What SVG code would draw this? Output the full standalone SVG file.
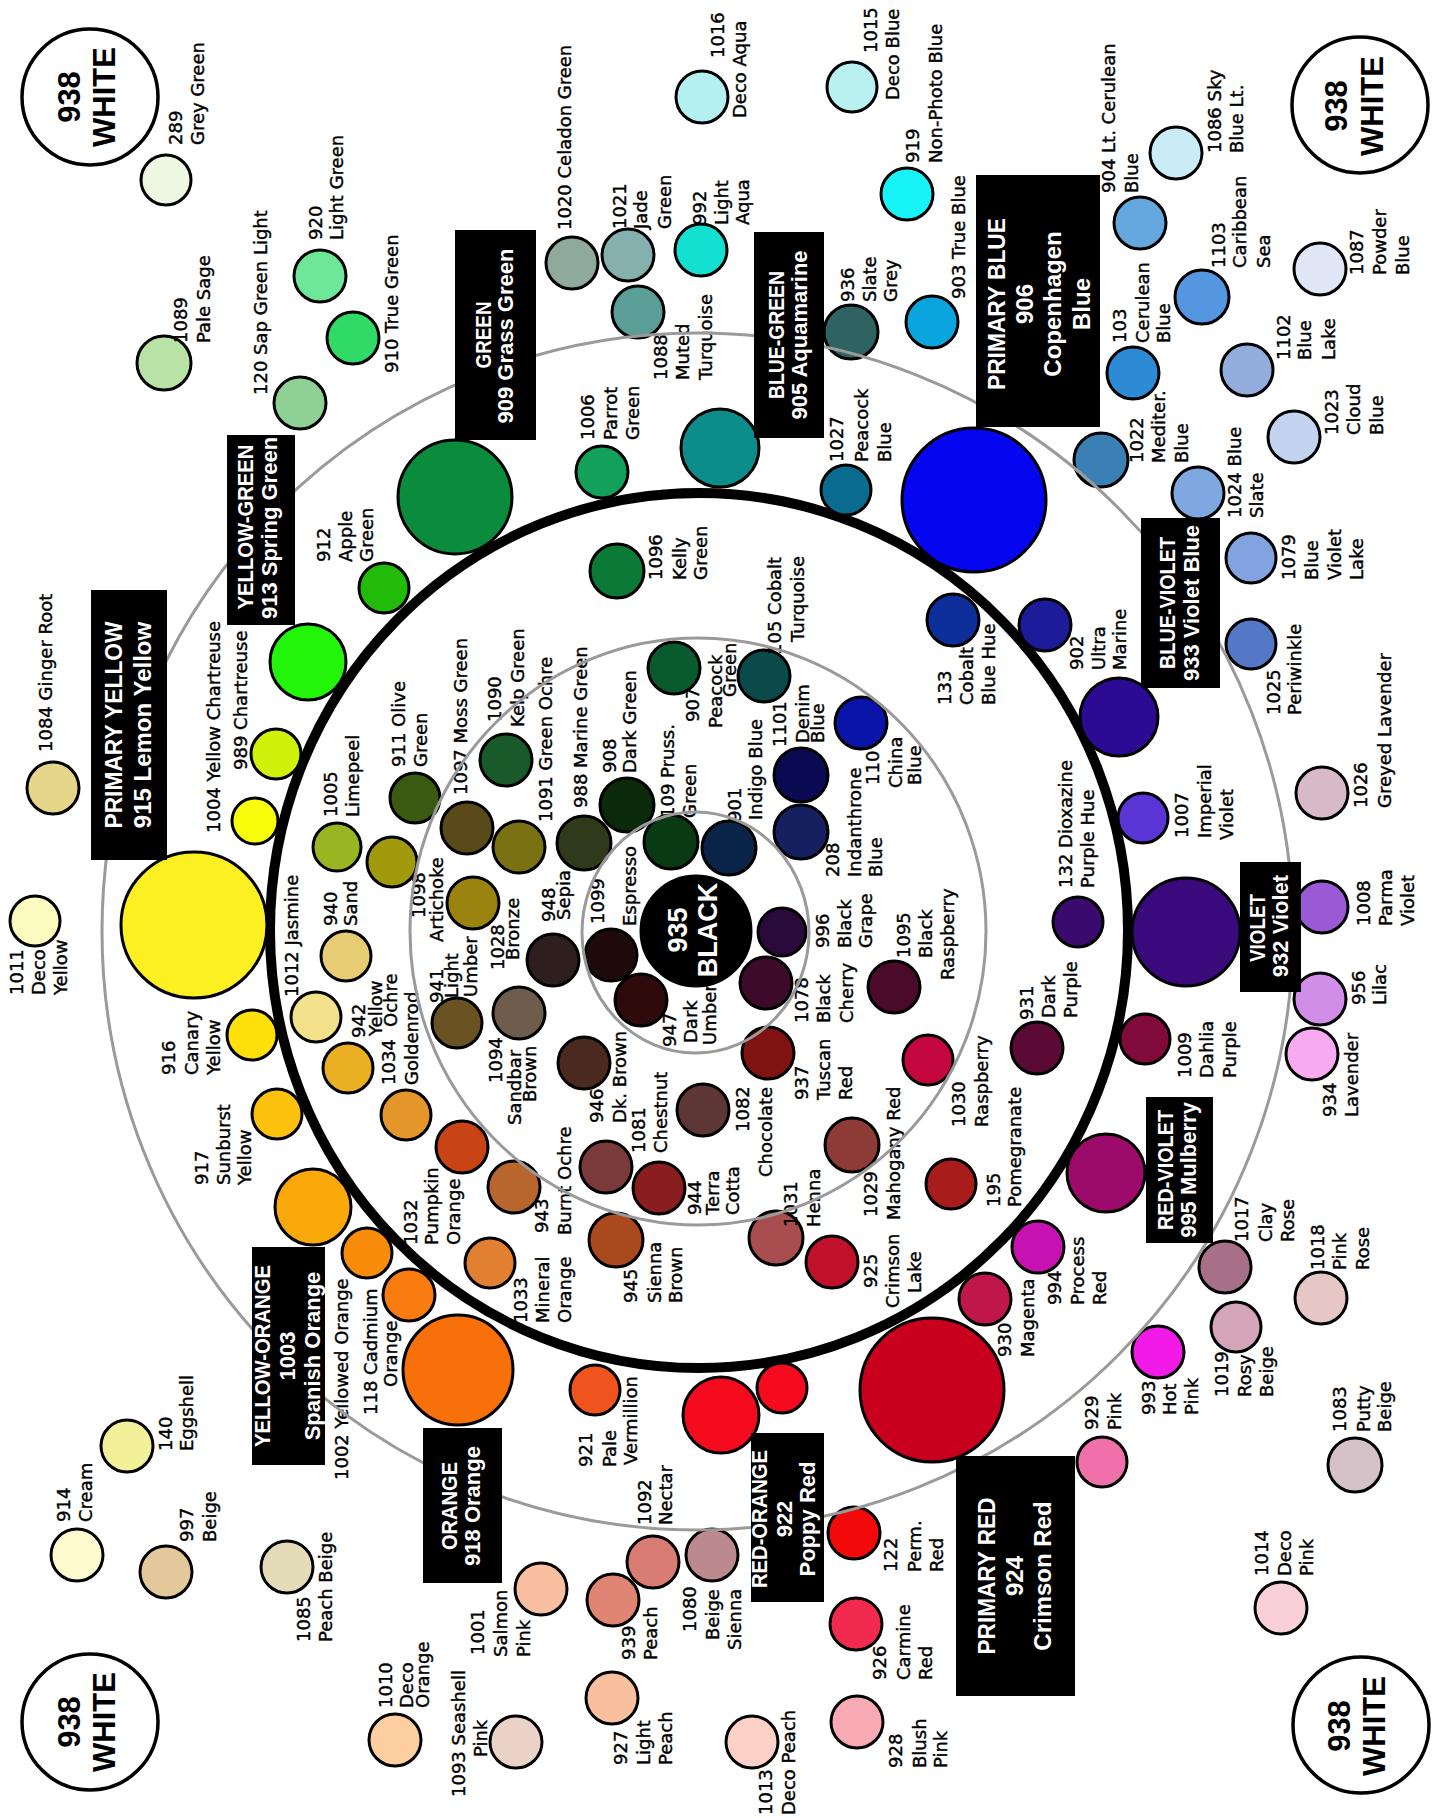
<svg xmlns="http://www.w3.org/2000/svg" width="1437" height="1818" viewBox="0 0 1437 1818">
<style>
.c{stroke:#000;stroke-width:3}
.l{font-family:"DejaVu Sans",Verdana,sans-serif;font-size:18px;fill:#000;stroke:#000;stroke-width:0.4}
.bx{fill:#000}
.bt{font-family:"Liberation Sans",Arial,sans-serif;font-weight:bold;font-size:22px;fill:#fff;text-anchor:middle}
.bp{font-size:24px}
.w{fill:#fff;stroke:#000;stroke-width:3.5}
.wt{font-family:"Liberation Sans",Arial,sans-serif;font-weight:bold;font-size:31px;fill:#000;text-anchor:middle}
.ring{fill:none;stroke:#9a9a9a;stroke-width:3}
.thick{fill:none;stroke:#000;stroke-width:10}
</style>
<rect width="1437" height="1818" fill="#fff"/>
<g id="rings-back">
<ellipse class="thick" cx="699" cy="930.5" rx="429" ry="437.5"/>
</g>
<g id="nodes">
<g id="w938-tl"><circle class="w" cx="90" cy="97" r="68"/><text class="wt" transform="rotate(-90)"><tspan x="-97" y="80">938</tspan><tspan x="-97" y="115">WHITE</tspan></text></g>
<g id="w938-tr"><circle class="w" cx="1360" cy="105" r="68"/><text class="wt" transform="rotate(-90)"><tspan x="-106" y="1347">938</tspan><tspan x="-106" y="1383">WHITE</tspan></text></g>
<g id="w938-bl"><circle class="w" cx="90" cy="1722" r="68"/><text class="wt" transform="rotate(-90)"><tspan x="-1722" y="80">938</tspan><tspan x="-1722" y="115">WHITE</tspan></text></g>
<g id="w938-br"><circle class="w" cx="1361" cy="1725" r="68"/><text class="wt" transform="rotate(-90)"><tspan x="-1726" y="1350">938</tspan><tspan x="-1726" y="1385">WHITE</tspan></text></g>

<g id="n289"><circle class="c" cx="166" cy="180" r="25" fill="#eef7e2"/><text class="l" transform="rotate(-90)"><tspan x="-145" y="182">289</tspan><tspan x="-145" y="204">Grey Green</tspan></text></g>
<g id="n1089"><circle class="c" cx="164" cy="363" r="27" fill="#b9e2a6"/><text class="l" transform="rotate(-90)"><tspan x="-343" y="187">1089</tspan><tspan x="-343" y="210">Pale Sage</tspan></text></g>
<g id="n120"><circle class="c" cx="300" cy="403" r="26" fill="#8fd094"/><text class="l" transform="rotate(-90)"><tspan x="-395" y="267">120 Sap Green Light</tspan></text></g>
<g id="n920"><circle class="c" cx="320" cy="276" r="26" fill="#6ee898"/><text class="l" transform="rotate(-90)"><tspan x="-240" y="322">920</tspan><tspan x="-240" y="343">Light Green</tspan></text></g>
<g id="n910"><circle class="c" cx="353" cy="338" r="26" fill="#2fdb66"/><text class="l" transform="rotate(-90)"><tspan x="-373" y="398">910 True Green</tspan></text></g>
<g id="n909"><circle class="c" cx="455" cy="497" r="57" fill="#0a8c3c"/></g>
<g id="n1020"><circle class="c" cx="572" cy="263" r="26" fill="#8fa99c"/><text class="l" transform="rotate(-90)"><tspan x="-230" y="571">1020 Celadon Green</tspan></text></g>
<g id="n1021"><circle class="c" cx="628" cy="255" r="26" fill="#86b0ad"/><text class="l" transform="rotate(-90)"><tspan x="-229" y="626">1021</tspan><tspan x="-229" y="647">Jade</tspan><tspan x="-229" y="671">Green</tspan></text></g>
<g id="n1088"><circle class="c" cx="638" cy="312" r="26" fill="#5a9e97"/><text class="l" transform="rotate(-90)"><tspan x="-380" y="667">1088</tspan><tspan x="-380" y="689">Muted</tspan><tspan x="-380" y="712">Turquoise</tspan></text></g>
<g id="n992"><circle class="c" cx="701" cy="250" r="26" fill="#12e0d0"/><text class="l" transform="rotate(-90)"><tspan x="-225" y="706">992</tspan><tspan x="-225" y="728">Light</tspan><tspan x="-225" y="749">Aqua</tspan></text></g>
<g id="n1016"><circle class="c" cx="702" cy="97" r="26" fill="#b5f0f0"/><text class="l" transform="rotate(-90)"><tspan x="-58" y="724">1016</tspan><tspan x="-118" y="746">Deco Aqua</tspan></text></g>
<g id="n1015"><circle class="c" cx="852" cy="87" r="25" fill="#b9f1f1"/><text class="l" transform="rotate(-90)"><tspan x="-53" y="877">1015</tspan><tspan x="-100" y="899">Deco Blue</tspan></text></g>
<g id="n919"><circle class="c" cx="907" cy="194" r="26" fill="#16f4f8"/><text class="l" transform="rotate(-90)"><tspan x="-163" y="919">919</tspan><tspan x="-163" y="942">Non-Photo Blue</tspan></text></g>
<g id="n905"><circle class="c" cx="720" cy="448" r="39" fill="#0d8c8c"/></g>
<g id="n936"><circle class="c" cx="851" cy="332" r="27" fill="#2f6362"/><text class="l" transform="rotate(-90)"><tspan x="-302" y="854">936</tspan><tspan x="-302" y="876">Slate</tspan><tspan x="-302" y="897">Grey</tspan></text></g>
<g id="n903"><circle class="c" cx="932" cy="322" r="26" fill="#0aa4df"/><text class="l" transform="rotate(-90)"><tspan x="-299" y="965">903 True Blue</tspan></text></g>
<g id="n1006"><circle class="c" cx="602" cy="472" r="26" fill="#12a05a"/><text class="l" transform="rotate(-90)"><tspan x="-440" y="594">1006</tspan><tspan x="-440" y="617">Parrot</tspan><tspan x="-440" y="639">Green</tspan></text></g>
<g id="n1027"><circle class="c" cx="846" cy="490" r="25" fill="#0a6b91"/><text class="l" transform="rotate(-90)"><tspan x="-462" y="843">1027</tspan><tspan x="-462" y="868">Peacock</tspan><tspan x="-462" y="891">Blue</tspan></text></g>
<g id="n906"><circle class="c" cx="974" cy="500" r="72" fill="#0505f0"/></g>
<g id="n904"><circle class="c" cx="1140" cy="223" r="26" fill="#64a8dd"/><text class="l" transform="rotate(-90)"><tspan x="-193" y="1115">904 Lt. Cerulean</tspan><tspan x="-193" y="1138">Blue</tspan></text></g>
<g id="n1086"><circle class="c" cx="1176" cy="153" r="26" fill="#c9ecf6"/><text class="l" transform="rotate(-90)"><tspan x="-153" y="1221">1086 Sky</tspan><tspan x="-153" y="1243">Blue Lt.</tspan></text></g>
<g id="n103"><circle class="c" cx="1133" cy="373" r="26" fill="#2d8bd5"/><text class="l" transform="rotate(-90)"><tspan x="-343" y="1126">103</tspan><tspan x="-343" y="1149">Cerulean</tspan><tspan x="-343" y="1170">Blue</tspan></text></g>
<g id="n1103"><circle class="c" cx="1202" cy="297" r="27" fill="#5596e0"/><text class="l" transform="rotate(-90)"><tspan x="-268" y="1225">1103</tspan><tspan x="-268" y="1246">Caribbean</tspan><tspan x="-268" y="1270">Sea</tspan></text></g>
<g id="n1087"><circle class="c" cx="1320" cy="269" r="26" fill="#dfe7f7"/><text class="l" transform="rotate(-90)"><tspan x="-275" y="1363">1087</tspan><tspan x="-275" y="1386">Powder</tspan><tspan x="-275" y="1409">Blue</tspan></text></g>
<g id="n1102"><circle class="c" cx="1247" cy="370" r="26" fill="#93aedd"/><text class="l" transform="rotate(-90)"><tspan x="-360" y="1290">1102</tspan><tspan x="-360" y="1311">Blue</tspan><tspan x="-360" y="1335">Lake</tspan></text></g>
<g id="n1023"><circle class="c" cx="1294" cy="437" r="26" fill="#c3d4f1"/><text class="l" transform="rotate(-90)"><tspan x="-435" y="1338">1023</tspan><tspan x="-435" y="1360">Cloud</tspan><tspan x="-435" y="1383">Blue</tspan></text></g>
<g id="n1022"><circle class="c" cx="1101" cy="460" r="27" fill="#3b80b5"/><text class="l" transform="rotate(-90)"><tspan x="-463" y="1143">1022</tspan><tspan x="-463" y="1165">Mediter.</tspan><tspan x="-463" y="1188">Blue</tspan></text></g>
<g id="n1024"><circle class="c" cx="1198" cy="493" r="26" fill="#7fa8e0"/><text class="l" transform="rotate(-90)"><tspan x="-518" y="1241">1024 Blue</tspan><tspan x="-518" y="1263">Slate</tspan></text></g>
<g id="n933"><circle class="c" cx="1119" cy="717" r="39" fill="#2d0a94"/></g>
<g id="n1079"><circle class="c" cx="1251" cy="558" r="25" fill="#82a3e0"/><text class="l" transform="rotate(-90)"><tspan x="-580" y="1295">1079</tspan><tspan x="-580" y="1318">Blue</tspan><tspan x="-580" y="1341">Violet</tspan><tspan x="-580" y="1363">Lake</tspan></text></g>
<g id="n1025"><circle class="c" cx="1251" cy="644" r="25" fill="#5578c6"/><text class="l" transform="rotate(-90)"><tspan x="-715" y="1280">1025</tspan><tspan x="-715" y="1301">Periwinkle</tspan></text></g>
<g id="n1026"><circle class="c" cx="1322" cy="793" r="26" fill="#d8b9c8"/><text class="l" transform="rotate(-90)"><tspan x="-808" y="1367">1026</tspan><tspan x="-808" y="1391">Greyed Lavender</tspan></text></g>
<g id="n902"><circle class="c" cx="1045" cy="625" r="26" fill="#1c1c9a"/><text class="l" transform="rotate(-90)"><tspan x="-670" y="1083">902</tspan><tspan x="-670" y="1105">Ultra</tspan><tspan x="-670" y="1126">Marine</tspan></text></g>
<g id="n133"><circle class="c" cx="953" cy="620" r="26" fill="#0d2f9a"/><text class="l" transform="rotate(-90)"><tspan x="-705" y="951">133</tspan><tspan x="-705" y="973">Cobalt</tspan><tspan x="-705" y="995">Blue Hue</tspan></text></g>
<g id="n1007"><circle class="c" cx="1143" cy="818" r="25" fill="#5a34d4"/><text class="l" transform="rotate(-90)"><tspan x="-838" y="1188">1007</tspan><tspan x="-838" y="1211">Imperial</tspan><tspan x="-840" y="1233">Violet</tspan></text></g>
<g id="n132"><circle class="c" cx="1078" cy="922" r="25" fill="#3a0a6e"/><text class="l" transform="rotate(-90)"><tspan x="-888" y="1072">132 Dioxazine</tspan><tspan x="-888" y="1094">Purple Hue</tspan></text></g>
<g id="n932"><circle class="c" cx="1186" cy="932" r="54" fill="#3a0a7c"/></g>
<g id="n1008"><circle class="c" cx="1322" cy="907" r="26" fill="#9a5ad6"/><text class="l" transform="rotate(-90)"><tspan x="-926" y="1370">1008</tspan><tspan x="-926" y="1392">Parma</tspan><tspan x="-926" y="1414">Violet</tspan></text></g>
<g id="n956"><circle class="c" cx="1320" cy="999" r="26" fill="#d08ee8"/><text class="l" transform="rotate(-90)"><tspan x="-1005" y="1365">956</tspan><tspan x="-1005" y="1386">Lilac</tspan></text></g>
<g id="n934"><circle class="c" cx="1312" cy="1054" r="26" fill="#f8aaf0"/><text class="l" transform="rotate(-90)"><tspan x="-1117" y="1336">934</tspan><tspan x="-1117" y="1358">Lavender</tspan></text></g>
<g id="n931"><circle class="c" cx="1037" cy="1048" r="26" fill="#5a0a34"/><text class="l" transform="rotate(-90)"><tspan x="-1020" y="1033">931</tspan><tspan x="-1018" y="1055">Dark</tspan><tspan x="-1018" y="1077">Purple</tspan></text></g>
<g id="n1009"><circle class="c" cx="1145" cy="1039" r="25" fill="#800a3a"/><text class="l" transform="rotate(-90)"><tspan x="-1078" y="1191">1009</tspan><tspan x="-1078" y="1213">Dahlia</tspan><tspan x="-1078" y="1236">Purple</tspan></text></g>
<g id="n1030"><circle class="c" cx="928" cy="1060" r="25" fill="#c4083d"/><text class="l" transform="rotate(-90)"><tspan x="-1127" y="965">1030</tspan><tspan x="-1127" y="988">Raspberry</tspan></text></g>
<g id="n995"><circle class="c" cx="1106" cy="1173" r="39" fill="#9c0a6a"/></g>
<g id="n195"><circle class="c" cx="951" cy="1184" r="25" fill="#a81c1c"/><text class="l" transform="rotate(-90)"><tspan x="-1207" y="1000">195</tspan><tspan x="-1207" y="1021">Pomegranate</tspan></text></g>
<g id="n994"><circle class="c" cx="1038" cy="1247" r="26" fill="#c512b0"/><text class="l" transform="rotate(-90)"><tspan x="-1305" y="1061">994</tspan><tspan x="-1305" y="1084">Process</tspan><tspan x="-1305" y="1106">Red</tspan></text></g>
<g id="n1017"><circle class="c" cx="1225" cy="1267" r="26" fill="#a87088"/><text class="l" transform="rotate(-90)"><tspan x="-1242" y="1248">1017</tspan><tspan x="-1242" y="1272">Clay</tspan><tspan x="-1242" y="1294">Rose</tspan></text></g>
<g id="n1018"><circle class="c" cx="1321" cy="1298" r="26" fill="#e7c6c6"/><text class="l" transform="rotate(-90)"><tspan x="-1270" y="1324">1018</tspan><tspan x="-1270" y="1346">Pink</tspan><tspan x="-1270" y="1369">Rose</tspan></text></g>
<g id="n1019"><circle class="c" cx="1236" cy="1327" r="25" fill="#d4a4b8"/><text class="l" transform="rotate(-90)"><tspan x="-1397" y="1228">1019</tspan><tspan x="-1397" y="1251">Rosy</tspan><tspan x="-1397" y="1273">Beige</tspan></text></g>
<g id="n930"><circle class="c" cx="985" cy="1299" r="26" fill="#c0174a"/><text class="l" transform="rotate(-90)"><tspan x="-1357" y="1011">930</tspan><tspan x="-1357" y="1034">Magenta</tspan></text></g>
<g id="n993"><circle class="c" cx="1158" cy="1352" r="26" fill="#f21ae6"/><text class="l" transform="rotate(-90)"><tspan x="-1415" y="1155">993</tspan><tspan x="-1415" y="1176">Hot</tspan><tspan x="-1415" y="1198">Pink</tspan></text></g>
<g id="n924"><circle class="c" cx="932" cy="1390" r="72" fill="#c8001e"/></g>
<g id="n929"><circle class="c" cx="1102" cy="1462" r="25" fill="#f070ac"/><text class="l" transform="rotate(-90)"><tspan x="-1430" y="1098">929</tspan><tspan x="-1430" y="1121">Pink</tspan></text></g>
<g id="n1083"><circle class="c" cx="1355" cy="1465" r="27" fill="#d4c2c8"/><text class="l" transform="rotate(-90)"><tspan x="-1432" y="1346">1083</tspan><tspan x="-1432" y="1370">Putty</tspan><tspan x="-1432" y="1391">Beige</tspan></text></g>
<g id="n1014"><circle class="c" cx="1281" cy="1608" r="26" fill="#f9cfd8"/><text class="l" transform="rotate(-90)"><tspan x="-1576" y="1268">1014</tspan><tspan x="-1576" y="1291">Deco</tspan><tspan x="-1576" y="1313">Pink</tspan></text></g>
<g id="n921"><circle class="c" cx="595" cy="1390" r="25" fill="#f0541e"/><text class="l" transform="rotate(-90)"><tspan x="-1467" y="592">921</tspan><tspan x="-1467" y="616">Pale</tspan><tspan x="-1465" y="637">Vermillion</tspan></text></g>
<g id="n922"><circle class="c" cx="721" cy="1415" r="38" fill="#f50a1e"/><circle class="c" cx="782" cy="1388" r="25" fill="#f50a1e"/></g>
<g id="n1092"><circle class="c" cx="653" cy="1562" r="26" fill="#d87c74"/><text class="l" transform="rotate(-90)"><tspan x="-1525" y="651">1092</tspan><tspan x="-1525" y="672">Nectar</tspan></text></g>
<g id="n1080"><circle class="c" cx="712" cy="1555" r="26" fill="#bc8a8e"/><text class="l" transform="rotate(-90)"><tspan x="-1632" y="696">1080</tspan><tspan x="-1640" y="719">Beige</tspan><tspan x="-1650" y="741">Sienna</tspan></text></g>
<g id="n939"><circle class="c" cx="613" cy="1600" r="26" fill="#e08474"/><text class="l" transform="rotate(-90)"><tspan x="-1660" y="635">939</tspan><tspan x="-1660" y="657">Peach</tspan></text></g>
<g id="n1001"><circle class="c" cx="541" cy="1589" r="26" fill="#f8c0a0"/><text class="l" transform="rotate(-90)"><tspan x="-1655" y="484">1001</tspan><tspan x="-1657" y="507">Salmon</tspan><tspan x="-1657" y="530">Pink</tspan></text></g>
<g id="n927"><circle class="c" cx="612" cy="1698" r="26" fill="#f9c0a0"/><text class="l" transform="rotate(-90)"><tspan x="-1765" y="627">927</tspan><tspan x="-1765" y="650">Light</tspan><tspan x="-1765" y="672">Peach</tspan></text></g>
<g id="n1093"><circle class="c" cx="516" cy="1742" r="26" fill="#ead3c6"/><text class="l" transform="rotate(-90)"><tspan x="-1797" y="465">1093 Seashell</tspan><tspan x="-1757" y="487">Pink</tspan></text></g>
<g id="n1013"><circle class="c" cx="752" cy="1742" r="26" fill="#fdd0c8"/><text class="l" transform="rotate(-90)"><tspan x="-1815" y="772">1013</tspan><tspan x="-1815" y="795">Deco Peach</tspan></text></g>
<g id="n122"><circle class="c" cx="854" cy="1533" r="26" fill="#f20a0a"/><text class="l" transform="rotate(-90)"><tspan x="-1572" y="897">122</tspan><tspan x="-1572" y="921">Perm.</tspan><tspan x="-1572" y="943">Red</tspan></text></g>
<g id="n926"><circle class="c" cx="856" cy="1624" r="26" fill="#f22a50"/><text class="l" transform="rotate(-90)"><tspan x="-1680" y="886">926</tspan><tspan x="-1680" y="910">Carmine</tspan><tspan x="-1680" y="932">Red</tspan></text></g>
<g id="n928"><circle class="c" cx="857" cy="1722" r="26" fill="#f7aab4"/><text class="l" transform="rotate(-90)"><tspan x="-1768" y="902">928</tspan><tspan x="-1768" y="926">Blush</tspan><tspan x="-1768" y="947">Pink</tspan></text></g>
<g id="n918"><circle class="c" cx="458" cy="1370" r="55" fill="#f8700a"/></g>
<g id="n1010"><circle class="c" cx="395" cy="1740" r="26" fill="#fdcfa0"/><text class="l" transform="rotate(-90)"><tspan x="-1708" y="392">1010</tspan><tspan x="-1708" y="413">Deco</tspan><tspan x="-1708" y="429">Orange</tspan></text></g>
<g id="n914"><circle class="c" cx="77" cy="1555" r="26" fill="#fdfad0"/><text class="l" transform="rotate(-90)"><tspan x="-1522" y="70">914</tspan><tspan x="-1522" y="92">Cream</tspan></text></g>
<g id="n140"><circle class="c" cx="127" cy="1446" r="26" fill="#f3f09a"/><text class="l" transform="rotate(-90)"><tspan x="-1451" y="172">140</tspan><tspan x="-1451" y="193">Eggshell</tspan></text></g>
<g id="n997"><circle class="c" cx="166" cy="1572" r="26" fill="#e2c89a"/><text class="l" transform="rotate(-90)"><tspan x="-1542" y="193">997</tspan><tspan x="-1542" y="216">Beige</tspan></text></g>
<g id="n1085"><circle class="c" cx="287" cy="1567" r="26" fill="#e4dcb8"/><text class="l" transform="rotate(-90)"><tspan x="-1642" y="310">1085</tspan><tspan x="-1642" y="332">Peach Beige</tspan></text></g>
<g id="n1003"><circle class="c" cx="313" cy="1207" r="38" fill="#fba80a"/></g>
<g id="n1002"><circle class="c" cx="367" cy="1253" r="25" fill="#f98c0a"/><text class="l" transform="rotate(-90)"><tspan x="-1480" y="348">1002 Yellowed Orange</tspan></text></g>
<g id="n118"><circle class="c" cx="409" cy="1295" r="26" fill="#f97c10"/><text class="l" transform="rotate(-90)"><tspan x="-1415" y="377">118 Cadmium</tspan><tspan x="-1387" y="397">Orange</tspan></text></g>
<g id="n917"><circle class="c" cx="277" cy="1114" r="25" fill="#fcc10c"/><text class="l" transform="rotate(-90)"><tspan x="-1185" y="208">917</tspan><tspan x="-1185" y="230">Sunburst</tspan><tspan x="-1185" y="251">Yellow</tspan></text></g>
<g id="n916"><circle class="c" cx="252" cy="1035" r="25" fill="#fde00a"/><text class="l" transform="rotate(-90)"><tspan x="-1075" y="175">916</tspan><tspan x="-1075" y="198">Canary</tspan><tspan x="-1075" y="220">Yellow</tspan></text></g>
<g id="n1011"><circle class="c" cx="35" cy="921" r="25" fill="#fefbc0"/><text class="l" transform="rotate(-90)"><tspan x="-995" y="23">1011</tspan><tspan x="-995" y="45">Deco</tspan><tspan x="-995" y="67">Yellow</tspan></text></g>
<g id="n915"><circle class="c" cx="194" cy="925" r="73" fill="#fdf022"/></g>
<g id="n1084"><circle class="c" cx="53" cy="788" r="26" fill="#e6d68a"/><text class="l" transform="rotate(-90)"><tspan x="-752" y="52">1084 Ginger Root</tspan></text></g>
<g id="n1004"><circle class="c" cx="255" cy="821" r="23" fill="#f8fe0a"/><text class="l" transform="rotate(-90)"><tspan x="-833" y="220">1004 Yellow Chartreuse</tspan></text></g>
<g id="n989"><circle class="c" cx="276" cy="754" r="25" fill="#d0f20a"/><text class="l" transform="rotate(-90)"><tspan x="-770" y="247">989 Chartreuse</tspan></text></g>
<g id="n913"><circle class="c" cx="308" cy="662" r="38" fill="#22f50a"/></g>
<g id="n912"><circle class="c" cx="384" cy="588" r="25" fill="#22bb0a"/><text class="l" transform="rotate(-90)"><tspan x="-562" y="330">912</tspan><tspan x="-562" y="352">Apple</tspan><tspan x="-562" y="373">Green</tspan></text></g>
<g id="n1005"><circle class="c" cx="337" cy="847" r="24" fill="#9ab522"/><text class="l" transform="rotate(-90)"><tspan x="-817" y="337">1005</tspan><tspan x="-817" y="359">Limepeel</tspan></text></g>
<g id="n1098"><circle class="c" cx="392" cy="862" r="25" fill="#a09a0c"/><text class="l" transform="rotate(-90)"><tspan x="-918" y="425">1098</tspan><tspan x="-942" y="443">Artichoke</tspan></text></g>
<g id="n911"><circle class="c" cx="415" cy="798" r="25" fill="#3a5a12"/><text class="l" transform="rotate(-90)"><tspan x="-767" y="405">911 Olive</tspan><tspan x="-767" y="427">Green</tspan></text></g>
<g id="n1097"><circle class="c" cx="467" cy="828" r="26" fill="#5a4a1a"/><text class="l" transform="rotate(-90)"><tspan x="-795" y="467">1097 Moss Green</tspan></text></g>
<g id="n1028"><circle class="c" cx="473" cy="903" r="26" fill="#9a820e"/><text class="l" transform="rotate(-90)"><tspan x="-970" y="504">1028</tspan><tspan x="-960" y="519">Bronze</tspan></text></g>
<g id="n940"><circle class="c" cx="346" cy="956" r="25" fill="#e8cc74"/><text class="l" transform="rotate(-90)"><tspan x="-926" y="337">940</tspan><tspan x="-926" y="357">Sand</tspan></text></g>
<g id="n1012"><circle class="c" cx="316" cy="1017" r="25" fill="#f2e08a"/><text class="l" transform="rotate(-90)"><tspan x="-997" y="298">1012 Jasmine</tspan></text></g>
<g id="n942"><circle class="c" cx="348" cy="1068" r="25" fill="#e8b022"/><text class="l" transform="rotate(-90)"><tspan x="-1038" y="365">942</tspan><tspan x="-1036" y="382">Yellow</tspan><tspan x="-1027" y="397">Ochre</tspan></text></g>
<g id="n1034"><circle class="c" cx="406" cy="1115" r="25" fill="#e4962a"/><text class="l" transform="rotate(-90)"><tspan x="-1085" y="395">1034</tspan><tspan x="-1085" y="418">Goldenrod</tspan></text></g>
<g id="n941"><circle class="c" cx="457" cy="1023" r="25" fill="#6a5222"/><text class="l" transform="rotate(-90)"><tspan x="-1003" y="443">941</tspan><tspan x="-998" y="458">Light</tspan><tspan x="-997" y="477">Umber</tspan></text></g>
<g id="n1032"><circle class="c" cx="462" cy="1147" r="26" fill="#c84414"/><text class="l" transform="rotate(-90)"><tspan x="-1245" y="417">1032</tspan><tspan x="-1245" y="438">Pumpkin</tspan><tspan x="-1245" y="460">Orange</tspan></text></g>
<g id="n1033"><circle class="c" cx="490" cy="1263" r="25" fill="#e08030"/><text class="l" transform="rotate(-90)"><tspan x="-1323" y="527">1033</tspan><tspan x="-1323" y="549">Mineral</tspan><tspan x="-1323" y="571">Orange</tspan></text></g>
<g id="n943"><circle class="c" cx="514" cy="1187" r="26" fill="#b8662e"/><text class="l" transform="rotate(-90)"><tspan x="-1233" y="548">943</tspan><tspan x="-1235" y="571">Burnt Ochre</tspan></text></g>
<g id="n945"><circle class="c" cx="616" cy="1240" r="27" fill="#a84a1e"/><text class="l" transform="rotate(-90)"><tspan x="-1303" y="637">945</tspan><tspan x="-1303" y="661">Sienna</tspan><tspan x="-1303" y="682">Brown</tspan></text></g>
<g id="n1094"><circle class="c" cx="519" cy="1013" r="26" fill="#6e5c4c"/><text class="l" transform="rotate(-90)"><tspan x="-1083" y="502">1094</tspan><tspan x="-1125" y="521">Sandbar</tspan><tspan x="-1102" y="536">Brown</tspan></text></g>
<g id="n948"><circle class="c" cx="553" cy="960" r="26" fill="#2e1e1e"/><text class="l" transform="rotate(-90)"><tspan x="-922" y="555">948</tspan><tspan x="-920" y="570">Sepia</tspan></text></g>
<g id="n1099"><circle class="c" cx="611" cy="955" r="26" fill="#1e0a0a"/><text class="l" transform="rotate(-90)"><tspan x="-924" y="604">1099</tspan><tspan x="-926" y="636">Espresso</tspan></text></g>
<g id="n935"><circle class="c" cx="696" cy="931" r="55" fill="#000"/><text class="wt" transform="rotate(-90)" style="fill:#fff;font-size:27px"><tspan x="-930" y="687">935</tspan><tspan x="-930" y="717">BLACK</tspan></text></g>
<g id="n996"><circle class="c" cx="782" cy="932" r="24" fill="#2a0a3a"/><text class="l" transform="rotate(-90)"><tspan x="-948" y="829">996</tspan><tspan x="-948" y="851">Black</tspan><tspan x="-948" y="872">Grape</tspan></text></g>
<g id="n1078"><circle class="c" cx="766" cy="983" r="26" fill="#3e0a2a"/><text class="l" transform="rotate(-90)"><tspan x="-1023" y="808">1078</tspan><tspan x="-1023" y="830">Black</tspan><tspan x="-1023" y="853">Cherry</tspan></text></g>
<g id="n1095"><circle class="c" cx="894" cy="987" r="26" fill="#4a0a2a"/><text class="l" transform="rotate(-90)"><tspan x="-958" y="910">1095</tspan><tspan x="-958" y="932">Black</tspan><tspan x="-980" y="954">Raspberry</tspan></text></g>
<g id="n947"><circle class="c" cx="641" cy="1000" r="26" fill="#2e0a0a"/><text class="l" transform="rotate(-90)"><tspan x="-1047" y="676">947</tspan><tspan x="-1043" y="697">Dark</tspan><tspan x="-1045" y="716">Umber</tspan></text></g>
<g id="n946"><circle class="c" cx="584" cy="1063" r="26" fill="#4a2a1e"/><text class="l" transform="rotate(-90)"><tspan x="-1123" y="603">946</tspan><tspan x="-1123" y="626">Dk. Brown</tspan></text></g>
<g id="n1082"><circle class="c" cx="703" cy="1110" r="26" fill="#5e3636"/><text class="l" transform="rotate(-90)"><tspan x="-1132" y="749">1082</tspan><tspan x="-1177" y="772">Chocolate</tspan></text></g>
<g id="n937"><circle class="c" cx="768" cy="1053" r="26" fill="#801212"/><text class="l" transform="rotate(-90)"><tspan x="-1100" y="808">937</tspan><tspan x="-1100" y="830">Tuscan</tspan><tspan x="-1100" y="852">Red</tspan></text></g>
<g id="n1081"><circle class="c" cx="606" cy="1167" r="26" fill="#7a3a3a"/><text class="l" transform="rotate(-90)"><tspan x="-1153" y="645">1081</tspan><tspan x="-1153" y="667">Chestnut</tspan></text></g>
<g id="n944"><circle class="c" cx="659" cy="1188" r="26" fill="#8a1e1e"/><text class="l" transform="rotate(-90)"><tspan x="-1215" y="701">944</tspan><tspan x="-1215" y="719">Terra</tspan><tspan x="-1215" y="739">Cotta</tspan></text></g>
<g id="n1031"><circle class="c" cx="776" cy="1238" r="27" fill="#a84e4e"/><text class="l" transform="rotate(-90)"><tspan x="-1227" y="797">1031</tspan><tspan x="-1227" y="820">Henna</tspan></text></g>
<g id="n1029"><circle class="c" cx="852" cy="1145" r="27" fill="#8e3a36"/><text class="l" transform="rotate(-90)"><tspan x="-1217" y="877">1029</tspan><tspan x="-1220" y="900">Mahogany Red</tspan></text></g>
<g id="n925"><circle class="c" cx="832" cy="1262" r="26" fill="#c0102a"/><text class="l" transform="rotate(-90)"><tspan x="-1288" y="877">925</tspan><tspan x="-1308" y="899">Crimson</tspan><tspan x="-1293" y="921">Lake</tspan></text></g>
<g id="n1090"><circle class="c" cx="506" cy="760" r="26" fill="#1a5a2a"/><text class="l" transform="rotate(-90)"><tspan x="-722" y="501">1090</tspan><tspan x="-727" y="524">Kelp Green</tspan></text></g>
<g id="n1091"><circle class="c" cx="519" cy="847" r="26" fill="#7a7212"/><text class="l" transform="rotate(-90)"><tspan x="-822" y="552">1091 Green Ochre</tspan></text></g>
<g id="n988"><circle class="c" cx="584" cy="843" r="27" fill="#2e3a1a"/><text class="l" transform="rotate(-90)"><tspan x="-808" y="587">988 Marine Green</tspan></text></g>
<g id="n908"><circle class="c" cx="627" cy="805" r="27" fill="#0a2a0a"/><text class="l" transform="rotate(-90)"><tspan x="-773" y="616">908</tspan><tspan x="-773" y="636">Dark Green</tspan></text></g>
<g id="n109"><circle class="c" cx="671" cy="842" r="27" fill="#0a3a12"/><text class="l" transform="rotate(-90)"><tspan x="-818" y="674">109 Pruss.</tspan><tspan x="-818" y="696">Green</tspan></text></g>
<g id="n907"><circle class="c" cx="674" cy="668" r="26" fill="#0a5a30"/><text class="l" transform="rotate(-90)"><tspan x="-722" y="699">907</tspan><tspan x="-728" y="722">Peacock</tspan><tspan x="-697" y="736">Green</tspan></text></g>
<g id="n105"><circle class="c" cx="764" cy="676" r="26" fill="#0a4a4a"/><text class="l" transform="rotate(-90)"><tspan x="-655" y="781">105 Cobalt</tspan><tspan x="-642" y="804">Turquoise</tspan></text></g>
<g id="n901"><circle class="c" cx="729" cy="848" r="27" fill="#0a2448"/><text class="l" transform="rotate(-90)"><tspan x="-822" y="741">901</tspan><tspan x="-820" y="762">Indigo Blue</tspan></text></g>
<g id="n1101"><circle class="c" cx="801" cy="775" r="27" fill="#0a0a52"/><text class="l" transform="rotate(-90)"><tspan x="-747" y="786">1101</tspan><tspan x="-743" y="809">Denim</tspan><tspan x="-743" y="824">Blue</tspan></text></g>
<g id="n208"><circle class="c" cx="801" cy="832" r="27" fill="#142060"/><text class="l" transform="rotate(-90)"><tspan x="-877" y="839">208</tspan><tspan x="-877" y="861">Indanthrone</tspan><tspan x="-877" y="882">Blue</tspan></text></g>
<g id="n110"><circle class="c" cx="861" cy="723" r="26" fill="#0a14a8"/><text class="l" transform="rotate(-90)"><tspan x="-785" y="879">110</tspan><tspan x="-788" y="902">China</tspan><tspan x="-785" y="921">Blue</tspan></text></g>
<g id="n1096"><circle class="c" cx="617" cy="571" r="27" fill="#0a7a36"/><text class="l" transform="rotate(-90)"><tspan x="-580" y="662">1096</tspan><tspan x="-580" y="686">Kelly</tspan><tspan x="-580" y="707">Green</tspan></text></g>
</g>
<g id="rings">
<ellipse class="ring" cx="695.5" cy="932.5" rx="113.5" ry="120.5"/>
<ellipse class="ring" cx="698" cy="931.5" rx="288" ry="293.5"/>
<ellipse class="ring" cx="697.5" cy="931.5" rx="595.5" ry="598.5"/>
</g>
<g id="boxes">
<g id="box-green"><rect class="bx" x="455" y="230" width="81" height="210"/><text class="bt" transform="rotate(-90)"><tspan x="-335" y="491" textLength="67" lengthAdjust="spacingAndGlyphs">GREEN</tspan><tspan x="-336" y="513">909 Grass Green</tspan></text></g>
<g id="box-blue-green"><rect class="bx" x="754" y="232" width="70" height="206"/><text class="bt" transform="rotate(-90)"><tspan x="-335" y="784" textLength="128" lengthAdjust="spacingAndGlyphs">BLUE-GREEN</tspan><tspan x="-335" y="807">905 Aquamarine</tspan></text></g>
<g id="box-primary-blue"><rect class="bx" x="976" y="175" width="124" height="252"/><text class="bt bp" transform="rotate(-90)"><tspan x="-304" y="1005" textLength="172" lengthAdjust="spacingAndGlyphs">PRIMARY BLUE</tspan><tspan x="-304" y="1033">906</tspan><tspan x="-304" y="1061">Copenhagen</tspan><tspan x="-304" y="1090">Blue</tspan></text></g>
<g id="box-blue-violet"><rect class="bx" x="1141" y="518" width="79" height="170"/><text class="bt" transform="rotate(-90)"><tspan x="-603" y="1175" textLength="132" lengthAdjust="spacingAndGlyphs">BLUE-VIOLET</tspan><tspan x="-603" y="1199">933 Violet Blue</tspan></text></g>
<g id="box-violet"><rect class="bx" x="1240" y="862" width="61" height="130"/><text class="bt" transform="rotate(-90)"><tspan x="-928" y="1265" textLength="68" lengthAdjust="spacingAndGlyphs">VIOLET</tspan><tspan x="-926" y="1288">932 Violet</tspan></text></g>
<g id="box-red-violet"><rect class="bx" x="1146" y="1097" width="67" height="146"/><text class="bt" transform="rotate(-90)"><tspan x="-1170" y="1173" textLength="120" lengthAdjust="spacingAndGlyphs">RED-VIOLET</tspan><tspan x="-1170" y="1196">995 Mulberry</tspan></text></g>
<g id="box-primary-red"><rect class="bx" x="956" y="1456" width="119" height="240"/><text class="bt bp" transform="rotate(-90)"><tspan x="-1576" y="995" textLength="157" lengthAdjust="spacingAndGlyphs">PRIMARY RED</tspan><tspan x="-1576" y="1023">924</tspan><tspan x="-1576" y="1051">Crimson Red</tspan></text></g>
<g id="box-red-orange"><rect class="bx" x="751" y="1433" width="73" height="169"/><text class="bt" transform="rotate(-90)"><tspan x="-1519" y="767" textLength="138" lengthAdjust="spacingAndGlyphs">RED-ORANGE</tspan><tspan x="-1519" y="792">922</tspan><tspan x="-1519" y="815">Poppy Red</tspan></text></g>
<g id="box-orange"><rect class="bx" x="423" y="1428" width="79" height="155"/><text class="bt" transform="rotate(-90)"><tspan x="-1506" y="457" textLength="88" lengthAdjust="spacingAndGlyphs">ORANGE</tspan><tspan x="-1506" y="480">918 Orange</tspan></text></g>
<g id="box-yellow-orange"><rect class="bx" x="252" y="1247" width="73" height="218"/><text class="bt" transform="rotate(-90)"><tspan x="-1356" y="270" textLength="182" lengthAdjust="spacingAndGlyphs">YELLOW-ORANGE</tspan><tspan x="-1356" y="295">1003</tspan><tspan x="-1356" y="320">Spanish Orange</tspan></text></g>
<g id="box-primary-yellow"><rect class="bx" x="91" y="590" width="76" height="270"/><text class="bt bp" transform="rotate(-90)"><tspan x="-725" y="122" textLength="207" lengthAdjust="spacingAndGlyphs">PRIMARY YELLOW</tspan><tspan x="-725" y="151">915 Lemon Yellow</tspan></text></g>
<g id="box-yellow-green"><rect class="bx" x="227" y="435" width="68" height="190"/><text class="bt" transform="rotate(-90)"><tspan x="-527" y="253" textLength="165" lengthAdjust="spacingAndGlyphs">YELLOW-GREEN</tspan><tspan x="-528" y="277">913 Spring Green</tspan></text></g>
</g>
</svg>
